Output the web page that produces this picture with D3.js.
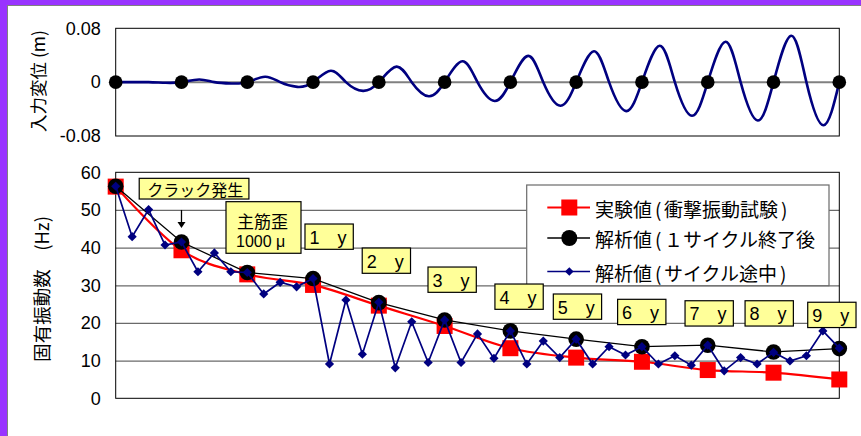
<!DOCTYPE html>
<html><head><meta charset="utf-8">
<script src="https://cdn.jsdelivr.net/npm/d3@7"></script>
<style>html,body{margin:0;padding:0;background:#fff;overflow:hidden}</style>
</head><body><svg id="c" width="861" height="436"></svg>
<script>
// ---- input displacement: one entry per loading cycle (m) ----
const cyclePeak   = [0.000, 0.004, 0.008, 0.017, 0.023, 0.031, 0.039, 0.046, 0.054, 0.060, 0.069];
const cycleTrough = [-0.001, -0.002, -0.007, -0.013, -0.021, -0.028, -0.035, -0.043, -0.050, -0.057, -0.064];
const cycleStarts = [0, 1, 2, 3, 4, 5, 6, 7, 8, 9, 10, 11];
const dispTicks = [0.08, 0, -0.08];
const dispTickLabels = ['0.08', '0', '-0.08'];

// ---- natural frequency (Hz) ----
// step index of each measurement (4 steps per cycle)
const cycleSteps = [0, 4, 8, 12, 16, 20, 24, 28, 32, 36, 40, 44];
const testFreq     = [56.2, 39.3, 32.9, 30.1, 24.6, 19.2, 13.3, 10.8, 9.7, 7.5, 6.8, 5.0];
const cycleEndFreq = [56.3, 41.5, 33.4, 31.8, 25.4, 20.8, 17.9, 15.7, 13.7, 14.1, 12.3, 13.2];
const midCycleFreq = [56.3, 42.9, 50.1, 40.7, 41.5, 33.6, 38.6, 33.6, 33.4, 27.7, 30.8, 29.6,
                      31.8, 9.1, 26.1, 11.7, 25.5, 8.1, 20.3, 9.5, 20.8, 9.5, 17.1, 10.6,
                      17.9, 9.1, 15.2, 10.8, 15.7, 9.1, 13.7, 11.5, 13.7, 9.1, 11.3, 8.8,
                      14.1, 7.3, 10.8, 9.1, 12.2, 9.9, 11.3, 17.9, 13.3];
const freqTicks = [0, 10, 20, 30, 40, 50, 60];
const seriesNames = ['実験値(衝撃振動試験)', '解析値(１サイクル終了後', '解析値(サイクル途中)'];
const yearLabels = ['1\u3000y', '2\u3000y', '3\u3000y', '4\u3000y', '5\u3000y', '6\u3000y', '7\u3000y', '8\u3000y', '9\u3000y'];

const svg = d3.select('#c');
const FONT = "'Liberation Sans', Arial, 'Noto Sans CJK JP', sans-serif";
const JFONT = "'Noto Sans CJK JP', sans-serif";

// page frame
svg.append('rect').attr('width', 861).attr('height', 436).attr('fill', '#9933FF');
svg.append('rect').attr('x', 7.5).attr('y', 5.5).attr('width', 870).attr('height', 450)
  .attr('fill', '#fff').attr('stroke', '#808080');

// ================= top panel =================
const L = 115.7, R = 839.3;
const xt = d3.scaleLinear().domain([0, 11]).range([L, R]);
const yt = d3.scaleLinear().domain([-0.08, 0.08]).range([136, 28.3]);

svg.append('rect').attr('x', L).attr('y', yt(0.08)).attr('width', R - L)
  .attr('height', yt(-0.08) - yt(0.08)).attr('fill', '#fff').attr('stroke', '#000');

svg.append('g').attr('transform', `translate(${L},0)`)
  .call(d3.axisLeft(yt).tickValues(dispTicks).tickSize(0).tickPadding(15)
    .tickFormat((d, i) => dispTickLabels[i]))
  .call(g => g.select('.domain').remove())
  .selectAll('text').attr('font-family', FONT).attr('font-size', 18).attr('fill', '#000');

svg.append('line').attr('x1', L).attr('x2', R).attr('y1', yt(0)).attr('y2', yt(0))
  .attr('stroke', '#808080').attr('stroke-width', 2);

// wave: zero, crest, zero, trough for every cycle
const phase = [0, 0.27, 0.5, 0.76];
const wave = [];
cyclePeak.forEach((p, c) => {
  wave.push([c + phase[0], 0], [c + phase[1], p], [c + phase[2], 0], [c + phase[3], cycleTrough[c]]);
});
wave.push([cycleStarts[cycleStarts.length - 1], 0]);
svg.append('path').datum(wave)
  .attr('d', d3.line().x(d => xt(d[0])).y(d => yt(d[1])).curve(d3.curveNatural))
  .attr('fill', 'none').attr('stroke', '#000080').attr('stroke-width', 2.6);

svg.append('g').selectAll('circle').data(cycleStarts).join('circle')
  .attr('cx', d => xt(d)).attr('cy', yt(0)).attr('r', 6.8).attr('fill', '#000');

svg.append('text').attr('transform', `translate(45,81) rotate(-90)`)
  .attr('text-anchor', 'middle').attr('font-family', JFONT).attr('font-size', 17.5)
  .text('入力変位 (m)');

// ================= bottom panel =================
const x = d3.scaleLinear().domain([0, 44]).range([L, R]);
const y = d3.scaleLinear().domain([0, 60]).range([398.3, 172.3]);

svg.append('g').attr('transform', `translate(${L},0)`)
  .call(d3.axisLeft(y).tickValues(freqTicks.slice(1, -1)).tickSize(-(R - L)).tickFormat(''))
  .call(g => g.select('.domain').remove())
  .selectAll('line').attr('stroke', '#6a6a6a').attr('stroke-width', 1.3);

svg.append('rect').attr('x', L).attr('y', y(60)).attr('width', R - L)
  .attr('height', y(0) - y(60)).attr('fill', 'none').attr('stroke', '#000');

svg.append('g').attr('transform', `translate(${L},0)`)
  .call(d3.axisLeft(y).tickValues(freqTicks).tickSize(0).tickPadding(15))
  .call(g => g.select('.domain').remove())
  .selectAll('text').attr('font-family', FONT).attr('font-size', 18).attr('fill', '#000');

svg.append('text').attr('transform', `translate(49,289) rotate(-90)`)
  .attr('text-anchor', 'middle').attr('font-family', JFONT).attr('font-size', 18.5)
  .text('固有振動数\u3000(Hz)');

// legend box
const lg = svg.append('g');
lg.append('rect').attr('x', 526.7).attr('y', 185).attr('width', 302.3).attr('height', 100.7)
  .attr('fill', '#fff').attr('stroke', '#6a6a6a').attr('stroke-width', 1.2);

// measured values (smoothed red line)
const testPts = cycleSteps.map((s, i) => [s, testFreq[i]]);
svg.append('path').datum(testPts)
  .attr('d', d3.line().x(d => x(d[0])).y(d => y(d[1])).curve(d3.curveCatmullRom.alpha(0)))
  .attr('fill', 'none').attr('stroke', '#ff0000').attr('stroke-width', 2.2);
svg.append('g').selectAll('rect').data(testPts).join('rect')
  .attr('x', d => x(d[0]) - 8).attr('y', d => y(d[1]) - 8).attr('width', 16).attr('height', 16)
  .attr('fill', '#ff0000');

// analysis after each cycle
const endPts = cycleSteps.map((s, i) => [s, cycleEndFreq[i]]);
svg.append('path').datum(endPts)
  .attr('d', d3.line().x(d => x(d[0])).y(d => y(d[1])))
  .attr('fill', 'none').attr('stroke', '#000').attr('stroke-width', 1.3);
svg.append('g').selectAll('circle').data(endPts).join('circle')
  .attr('cx', d => x(d[0])).attr('cy', d => y(d[1])).attr('r', 7.8).attr('fill', '#000');

// analysis during cycles
const midPts = midCycleFreq.map((v, i) => [i, v]);
const diamond = (cx, cy, r) => `M${cx},${cy - r}L${cx + r},${cy}L${cx},${cy + r}L${cx - r},${cy}Z`;
svg.append('path').datum(midPts)
  .attr('d', d3.line().x(d => x(d[0])).y(d => y(d[1])))
  .attr('fill', 'none').attr('stroke', '#000080').attr('stroke-width', 1.7);
svg.append('g').selectAll('path').data(midPts).join('path')
  .attr('d', d => diamond(x(d[0]), y(d[1]), 4.6)).attr('fill', '#000080');

// legend entries
const legY = [207.5, 238, 271.5];
const lx0 = 547.3, lx1 = 590, lmx = 569.3;
lg.raise();
lg.append('line').attr('x1', lx0).attr('x2', lx1).attr('y1', legY[0]).attr('y2', legY[0])
  .attr('stroke', '#ff0000').attr('stroke-width', 2);
lg.append('rect').attr('x', lmx - 8).attr('y', legY[0] - 8).attr('width', 16).attr('height', 16).attr('fill', '#ff0000');
lg.append('line').attr('x1', lx0).attr('x2', lx1).attr('y1', legY[1]).attr('y2', legY[1])
  .attr('stroke', '#000').attr('stroke-width', 1.5);
lg.append('circle').attr('cx', lmx).attr('cy', legY[1]).attr('r', 8).attr('fill', '#000');
lg.append('line').attr('x1', lx0).attr('x2', lx1).attr('y1', legY[2]).attr('y2', legY[2])
  .attr('stroke', '#000080').attr('stroke-width', 1.5);
lg.append('path').attr('d', diamond(lmx, legY[2], 4.3)).attr('fill', '#000080');
seriesNames.forEach((name, i) => {
  const t = lg.append('text').attr('x', 595).attr('y', legY[i]).attr('dominant-baseline', 'central')
    .attr('font-family', JFONT).attr('font-size', 19);
  // parentheses get a little air on both sides
  let pad = 0;
  name.split(/([()])/).filter(s => s.length).forEach(part => {
    const isParen = part === '(' || part === ')';
    t.append('tspan').attr('dx', isParen ? 3 : pad).text(part);
    pad = isParen ? 2.5 : 0;
  });
});

// ---- annotations ----
const ann = svg.append('g');
const box = (k, v, w, h) => ann.append('rect').attr('x', x(k)).attr('y', y(v))
  .attr('width', w).attr('height', h).attr('fill', '#ffff99').attr('stroke', '#000').attr('stroke-width', 1.2);

// crack initiation
box(1.43, 58.4, 109.7, 20.7);
ann.append('text').attr('x', x(1.43) + 8).attr('y', y(58.4) + 10.5).attr('dominant-baseline', 'central')
  .attr('font-family', JFONT).attr('font-size', 16).text('クラック発生');
ann.append('line').attr('x1', x(4)).attr('x2', x(4)).attr('y1', y(50)).attr('y2', y(46.5))
  .attr('stroke', '#000').attr('stroke-width', 1.3);
ann.append('path').attr('d', `M${x(4) - 4},${y(46.8)}L${x(4) + 4},${y(46.8)}L${x(4)},${y(45.2)}Z`).attr('fill', '#000');

// rebar strain
box(6.707, 52.2, 75, 51.6);
ann.append('text').attr('x', x(6.707) + 11).attr('y', y(52.2) + 18.5).attr('dominant-baseline', 'central')
  .attr('font-family', JFONT).attr('font-size', 17).text('主筋歪');
ann.append('text').attr('x', x(6.707) + 10).attr('y', y(52.2) + 45)
  .attr('font-family', FONT).attr('font-size', 16).text('1000 μ');

// elapsed years
const yearAt = [[11.51, 46.27], [14.99, 39.9], [18.99, 34.85], [23.06, 30.34], [26.61, 27.69],
                [30.52, 26.28], [34.62, 25.9], [38.27, 25.9], [42.08, 25.5]];
yearLabels.forEach((t, i) => {
  const [k, v] = yearAt[i];
  box(k, v, 48.3, 25.3);
  ann.append('text').attr('x', x(k) + 4.5).attr('y', y(v) + 19.5)
    .attr('font-family', FONT).attr('font-size', 18).text(t);
});
</script></body></html>
